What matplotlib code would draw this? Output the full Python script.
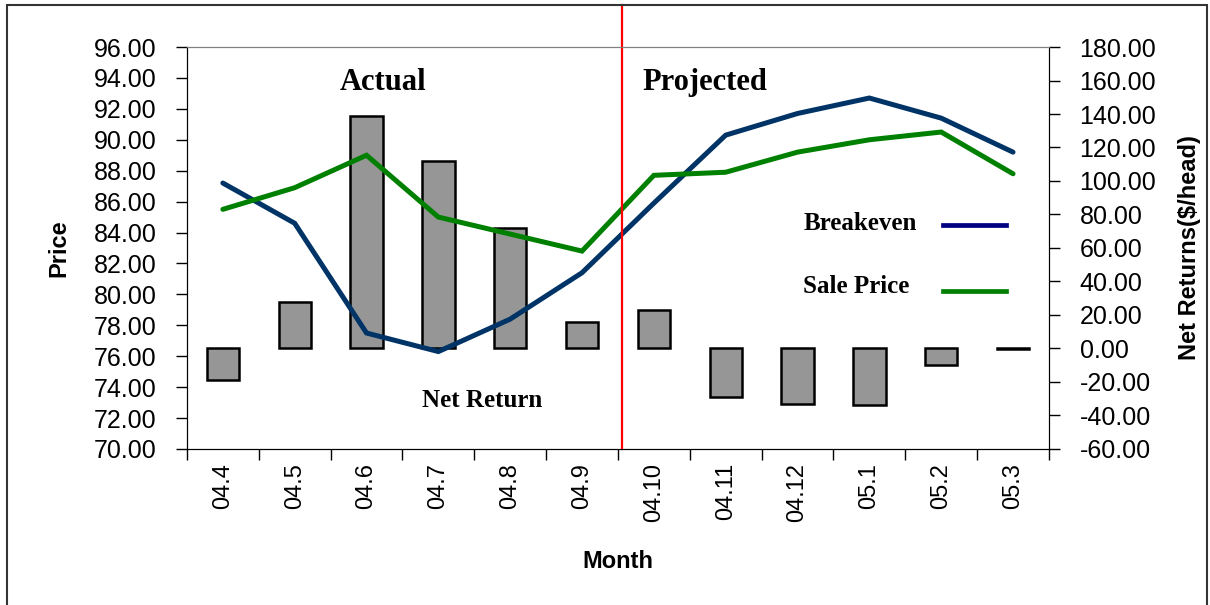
import matplotlib
matplotlib.use("Agg")
from matplotlib import pyplot as plt
from matplotlib.patches import Rectangle

# data
months = ['04.4', '04.5', '04.6', '04.7', '04.8', '04.9',
          '04.10', '04.11', '04.12', '05.1', '05.2', '05.3']
breakeven = [87.2, 84.6, 77.5, 76.3, 78.4, 81.4, 85.9, 90.3, 91.7, 92.7, 91.4, 89.2]
sale_price = [85.5, 86.9, 89.0, 85.0, 83.9, 82.8, 87.7, 87.9, 89.2, 90.0, 90.5, 87.8]
net_return = [-19, 28, 139, 112, 72, 16, 23, -29, -33, -34, -10, -0.5]
divider = 5.55  # between actual and projected months

navy = '#003366'
green = '#008000'
sans = 'Liberation Sans'
serif = 'Liberation Serif'

fig = plt.figure(figsize=(12.1, 6.05), dpi=100)
ax = fig.add_axes([0.1545, 0.2579, 0.7124, 0.6644])
ax2 = ax.twinx()

x = list(range(len(months)))

# net return bars on the right axis
ax2.bar(x, net_return, width=0.45, color='#969696', edgecolor='black',
        linewidth=1.8, zorder=2)
ax2.set_ylim(-60, 180)
ax2.set_yticks(range(-60, 181, 20))
ax2.set_yticklabels(['%.2f' % v for v in range(-60, 181, 20)],
                    fontsize=18, family=sans)
ax2.set_ylabel('Net Returns($/head)', fontsize=17, family=sans,
               fontweight='bold', labelpad=16)

# price lines on the left axis, drawn above the bars
ax.set_zorder(ax2.get_zorder() + 1)
ax.patch.set_visible(False)
ax.plot(x, breakeven, color=navy, lw=3.6, solid_capstyle='round',
        solid_joinstyle='miter')
ax.plot(x, sale_price, color=green, lw=3.6, solid_capstyle='round',
        solid_joinstyle='miter')
ax.set_ylim(70, 96)
ax.set_yticks(range(70, 97, 2))
ax.set_yticklabels(['%.2f' % v for v in range(70, 97, 2)],
                   fontsize=18, family=sans)
ax.set_ylabel('Price', fontsize=17, family=sans, fontweight='bold',
              labelpad=17)

ax.set_xlim(-0.5, len(months) - 0.5)
ax.set_xticks([i - 0.5 for i in range(len(months) + 1)])
ax.set_xticklabels([])
ax.set_xticks(x, minor=True)
ax.set_xticklabels(months, minor=True, rotation=90, fontsize=17, family=sans)
ax.tick_params(axis='x', which='minor', length=0, pad=10)
ax.tick_params(axis='x', which='major', length=8, width=1, direction='out')
ax.tick_params(axis='y', length=8, width=1, direction='out', pad=14)
ax2.tick_params(axis='y', length=8, width=1, direction='out', pad=14)
ax.set_xlabel('Month', fontsize=17, family=sans, fontweight='bold',
              labelpad=20)

for a in (ax, ax2):
    a.spines['top'].set_color('#808080')
    a.spines['left'].set_color('black')
    a.spines['right'].set_color('black')
    a.spines['bottom'].set_color('black')

# red divider running past the top of the plot
ax.axvline(divider, ymin=0, ymax=1.105, color='red', lw=1.6, clip_on=False)

# annotations
ax.text(0.227, 0.912, 'Actual', transform=ax.transAxes, fontsize=22,
        family=serif, fontweight='bold', ha='center', va='center')
ax.text(0.528, 0.912, 'Projected', transform=ax.transAxes, fontsize=22,
        family=serif, fontweight='bold', ha='left', va='center')
ax.text(0.342, 0.12, 'Net Return', transform=ax.transAxes, fontsize=18,
        family=serif, fontweight='bold', ha='center', va='center')
ax.text(0.715, 0.56, 'Breakeven', transform=ax.transAxes, fontsize=18,
        family=serif, fontweight='bold', ha='left', va='center')
ax.text(0.715, 0.403, 'Sale Price', transform=ax.transAxes, fontsize=18,
        family=serif, fontweight='bold', ha='left', va='center')
ax.plot([0.877, 0.95], [0.557, 0.557], transform=ax.transAxes,
        color='#000080', lw=3.4)
ax.plot([0.877, 0.95], [0.393, 0.393], transform=ax.transAxes,
        color=green, lw=3.4)

# chart border
fig.patches.append(Rectangle((7 / 1210, -0.05), 1200 / 1210, 1.05 - 5 / 605,
                             transform=fig.transFigure, fill=False,
                             edgecolor='#333333', lw=1.5))

fig.savefig('out.png', dpi=100)
